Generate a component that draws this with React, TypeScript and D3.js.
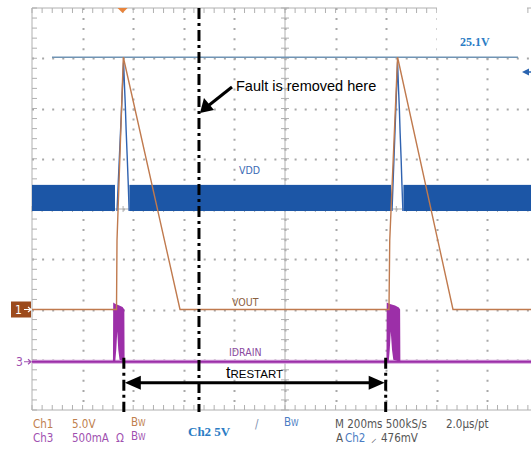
import React from 'react';
import * as d3 from 'd3';

const W = 531;
const H = 450;

// time base: M 200ms/div, 10 divisions across
const timeDomain = [0, 2000];
const divDomain = [-4, 4];

// Ch1 VOUT (V), 5 V/div, ground marker 2 div below centre
const voutPts = [[0, 0], [334, 0], [336, 6.9], [361, 25.1], [585, 0], [1411, 0], [1414, 6.9], [1445, 25.1], [1664, 0], [2000, 0]];
// Ch2 VDD (V), 5 V/div: the switching band, and the spike in each restart gap
const vddBand = [[0, 328], [385, 1419], [1468, 2000]];
const vddBandTop = 2.6;
const vddSpike1 = [[336, 0], [362, 14.8], [366, 12.2], [369, 10.4], [372, 8.1], [376, 5.6], [380, 3.0], [384, 0]];
const vddSpike2 = [[1423, 0], [1445, 14.8], [1449, 12.0], [1452, 10.2], [1455, 7.8], [1459, 5.2], [1462, 2.8], [1466, 0]];
// Ch3 IDRAIN (mA), 500 mA/div: burst envelopes
const idrainTop1 = [[320, 0], [321, 590], [330, 575], [345, 560], [358, 545], [365, 520], [366, 0]];
const idrainLow1 = [[320, 0], [329, 0], [333, 120], [337, 300], [341, 120], [346, 20], [366, 0]];
const idrainTop2 = [[1401, 0], [1402, 590], [1415, 575], [1435, 560], [1450, 540], [1455, 520], [1456, 0]];
const idrainLow2 = [[1401, 0], [1410, 0], [1414, 120], [1418, 300], [1423, 120], [1428, 20], [1456, 0]];

const cursorLevel = 25.1; // V, Ch1
const cursorSpan = [79, 1921];
const faultTime = 660;
const restartSpan = [363, 1398];
const triggerTime = 358;

const x = d3.scaleLinear().domain(timeDomain).range([32, 538]);
const y = d3.scaleLinear().domain(divDomain).range([410, 8]);

const ch1 = (v) => y(-2 + v / 5);
const ch2 = (v) => y(-0.04 + v / 5);
const ch3 = (ma) => y(-3.04 + ma / 500);

const lineOf = (fy) => d3.line().x((d) => x(d[0])).y((d) => fy(d[1]));

const burst = (top, low) => {
  const pts = top.map((d) => [x(d[0]), ch3(d[1])]).concat(low.slice().reverse().map((d) => [x(d[0]), ch3(d[1])]));
  return 'M' + pts.map((p) => p.join(',')).join('L') + 'Z';
};

const narrow = '"Liberation Sans Narrow", "DejaVu Sans Condensed", "Liberation Sans", sans-serif';
const serif = '"Liberation Serif", "DejaVu Serif", serif';

export default function App() {
  const majorT = d3.range(0, 2001, 200);
  const minorT = d3.range(0, 2001, 40);
  const majorD = d3.range(-4, 4.01, 1);
  const minorD = d3.range(-4, 4.01, 0.2);
  const grid = '#a8a8a8';
  const frame = '#b0b0b0';

  const ax = x(faultTime);
  const ay = y(1.91);
  const ry = ch3(-210);

  return (
    <svg width={W} height={H} style={{ position: 'absolute', left: 0, top: 0, background: '#fff' }}>
      {/* dotted graticule */}
      {majorT.slice(1, -1).map((t) => (
        <line key={'gv' + t} x1={Math.round(x(t)) + 0.5} x2={Math.round(x(t)) + 0.5} y1={y(4)} y2={y(-4)} stroke={grid} strokeWidth={2} strokeDasharray="2,8.05" />
      ))}
      {majorD.slice(1, -1).map((d) => (
        <line key={'gh' + d} x1={x(0)} x2={W} y1={Math.round(y(d)) + 0.5} y2={Math.round(y(d)) + 0.5} stroke={grid} strokeWidth={2} strokeDasharray="2,8.1" />
      ))}
      {/* centre axes and frame with minor ticks */}
      <line x1={x(1000)} x2={x(1000)} y1={y(4)} y2={y(-4)} stroke={frame} strokeWidth={1} />
      <line x1={x(0)} x2={W} y1={y(0)} y2={y(0)} stroke={frame} strokeWidth={1} />
      <line x1={x(0)} x2={W} y1={y(4)} y2={y(4)} stroke={frame} strokeWidth={1} />
      <line x1={x(0)} x2={W} y1={y(-4)} y2={y(-4)} stroke={frame} strokeWidth={1} />
      <line x1={x(0)} x2={x(0)} y1={y(4)} y2={y(-4)} stroke={frame} strokeWidth={1} />
      {minorT.map((t) => (
        <g key={'tt' + t} stroke={frame} strokeWidth={1}>
          <line x1={x(t)} x2={x(t)} y1={y(4)} y2={y(4) + 5} />
          <line x1={x(t)} x2={x(t)} y1={y(-4)} y2={y(-4) - 5} />
          <line x1={x(t)} x2={x(t)} y1={y(0) - 3} y2={y(0) + 3} />
        </g>
      ))}
      {minorD.map((d) => (
        <g key={'td' + d} stroke={frame} strokeWidth={1}>
          <line x1={x(0)} x2={x(0) + 5} y1={y(d)} y2={y(d)} />
          <line x1={x(1000) - 4} x2={x(1000) + 4} y1={y(d)} y2={y(d)} />
        </g>
      ))}

      {/* Ch2 VDD band */}
      {vddBand.map((s, i) => (
        <rect key={'vb' + i} x={x(s[0])} y={ch2(vddBandTop)} width={x(s[1]) - x(s[0])} height={ch2(0) - ch2(vddBandTop)} fill="#1c56a6" />
      ))}
      <path d={lineOf(ch2)(vddSpike1)} fill="none" stroke="#2f62b0" strokeWidth={1.4} />
      <path d={lineOf(ch2)(vddSpike2)} fill="none" stroke="#2f62b0" strokeWidth={1.4} />

      {/* cursor */}
      <line x1={x(cursorSpan[0])} x2={x(cursorSpan[1])} y1={ch1(cursorLevel)} y2={ch1(cursorLevel)} stroke="#7094b4" strokeWidth={1.5} />
      <rect x={437} y={0} width={90} height={ch1(cursorLevel) - 3} fill="#fff" />
      <text x={460} y={46} fontFamily={serif} fontWeight="bold" fontSize={12} fill="#2a7cc4">25.1V</text>
      <path d="M522,72 L529,68.5 L529,75.5 Z" fill="#2a64b0" />
      <line x1={527} x2={531} y1={72} y2={72} stroke="#2a64b0" strokeWidth={1.5} />

      {/* Ch3 IDRAIN */}
      <line x1={x(0)} x2={W} y1={ch3(0)} y2={ch3(0)} stroke="#d4a0dc" strokeWidth={4} />
      <line x1={x(0)} x2={W} y1={ch3(0)} y2={ch3(0)} stroke="#9c2fa8" strokeWidth={2.2} />
      <path d={burst(idrainTop1, idrainLow1)} fill="#9c2fa8" />
      <path d={burst(idrainTop2, idrainLow2)} fill="#9c2fa8" />

      {/* Ch1 VOUT */}
      <path d={lineOf(ch1)(voutPts)} fill="none" stroke="#c07a4e" strokeWidth={1.4} />

      {/* trace labels */}
      <text x={239} y={174} fontFamily={narrow} fontSize={10.5} fill="#3a6ab4">VDD</text>
      <text x={232} y={306} fontFamily={narrow} fontSize={10.5} fill="#8a6040">VOUT</text>
      <text x={229} y={356} fontFamily={narrow} fontSize={10.5} fill="#8a4aa0">IDRAIN</text>

      {/* channel markers */}
      <rect x={11} y={ch1(0) - 8} width={20} height={16} fill="#9c4a1c" />
      <text x={15} y={ch1(0) + 4.5} fontFamily={narrow} fontSize={12} fill="#fff">1</text>
      <path d={`M24,${ch1(0)} L31,${ch1(0)} M28,${ch1(0) - 2.5} L31,${ch1(0)} L28,${ch1(0) + 2.5}`} stroke="#fff" strokeWidth={1.2} fill="none" />
      <text x={16} y={ch3(0) + 4.5} fontFamily={narrow} fontSize={12} fill="#a050b0">3</text>
      <path d={`M24,${ch3(0)} L31,${ch3(0)} M28,${ch3(0) - 2.5} L31,${ch3(0)} L28,${ch3(0) + 2.5}`} stroke="#a050b0" strokeWidth={1.2} fill="none" />
      <path d={`M${x(triggerTime) - 5},${y(4)} L${x(triggerTime) + 5},${y(4)} L${x(triggerTime)},${y(4) + 5} Z`} fill="#e8843c" />

      {/* annotations */}
      <line x1={ax} x2={ax} y1={y(4)} y2={y(-4) + 2} stroke="#000" strokeWidth={3} strokeDasharray="11,4,3,4" />
      <line x1={x(restartSpan[0])} x2={x(restartSpan[0])} y1={ch3(0) - 4} y2={y(-4) + 2} stroke="#000" strokeWidth={3} strokeDasharray="11,4,3,4" />
      <line x1={x(restartSpan[1])} x2={x(restartSpan[1])} y1={ch3(0) - 4} y2={y(-4) + 2} stroke="#000" strokeWidth={3} strokeDasharray="11,4,3,4" />
      <line x1={ax + 33} y1={ay - 26} x2={ax + 9} y2={ay - 7} stroke="#000" strokeWidth={3} />
      <path d={`M${ax + 1},${ay} L${ax + 5},${ay - 15} L${ax + 15},${ay - 3} Z`} fill="#000" />
      <text x={ax + 37} y={ay - 22} fontFamily='"Liberation Sans", Arial, sans-serif' fontSize={14.5} fill="#000">Fault is removed here</text>

      <line x1={x(restartSpan[0]) + 12} x2={x(restartSpan[1]) - 12} y1={ry} y2={ry} stroke="#000" strokeWidth={3} />
      <path d={`M${x(restartSpan[0]) + 1},${ry} L${x(restartSpan[0]) + 17},${ry - 7} L${x(restartSpan[0]) + 17},${ry + 7} Z`} fill="#000" />
      <path d={`M${x(restartSpan[1]) - 1},${ry} L${x(restartSpan[1]) - 17},${ry - 7} L${x(restartSpan[1]) - 17},${ry + 7} Z`} fill="#000" />
      <text x={226} y={ry - 5} fontFamily='"Liberation Sans", Arial, sans-serif' fill="#000">
        <tspan fontSize={16}>t</tspan>
        <tspan fontSize={11.5}>RESTART</tspan>
      </text>

      {/* readout */}
      <rect x={172} y={y(-4) + 2} width={82} height={H - y(-4)} fill="#fff" />
      <g fontFamily={narrow} fontSize={11.5}>
        <text x={33} y={428} fill="#c0804e">Ch1</text>
        <text x={72} y={428} fill="#c0804e">5.0V</text>
        <text x={131} y={426} fill="#c0804e">B<tspan fontSize={8.5}>W</tspan></text>
        <text x={33} y={442} fill="#a050b0">Ch3</text>
        <text x={72} y={442} fill="#a050b0">500mA</text>
        <text x={116} y={442} fill="#a050b0">Ω</text>
        <text x={131} y={440} fill="#a050b0">B<tspan fontSize={8.5}>W</tspan></text>
        <text x={255} y={428} fill="#8090b0">/</text>
        <text x={284} y={426} fill="#4a7cc4">B<tspan fontSize={8.5}>W</tspan></text>
        <text x={335} y={428} fill="#555">M 200ms 500kS/s</text>
        <text x={446} y={428} fill="#555">2.0µs/pt</text>
        <text x={336} y={442} fill="#555">A</text>
        <text x={345} y={442} fill="#4a7cc4">Ch2</text>
        <text x={371} y={442} fill="#555">⸝</text>
        <text x={381} y={442} fill="#555">476mV</text>
      </g>
      <text x={188} y={436} fontFamily={serif} fontWeight="bold" fontSize={13} fill="#2a7cc4">Ch2 5V</text>
    </svg>
  );
}
